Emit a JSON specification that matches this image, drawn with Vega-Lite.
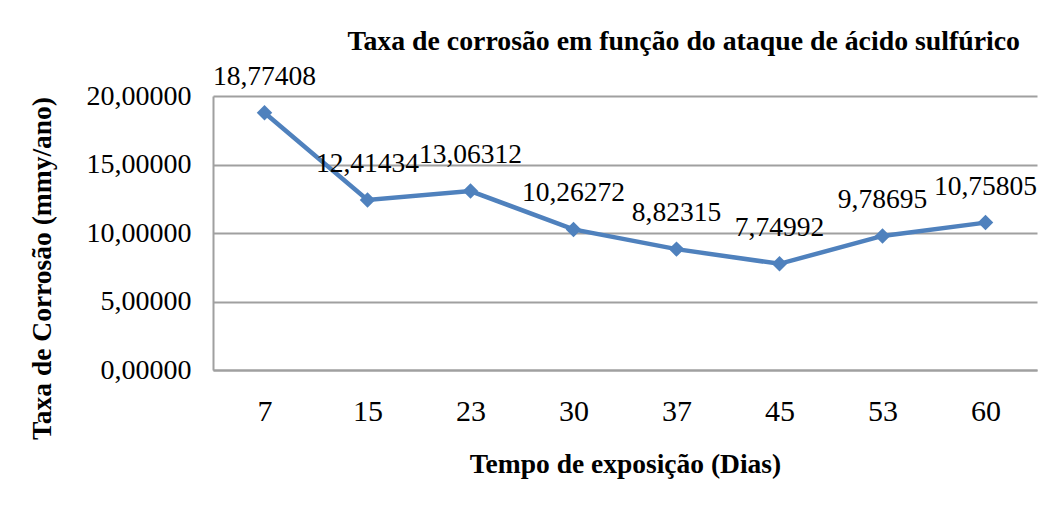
{
  "$schema": "https://vega.github.io/schema/vega-lite/v6.json",
  "width": 824,
  "height": 274,
  "autosize": "none",
  "padding": {"left": 213, "top": 96, "right": 15, "bottom": 136},
  "background": "white",
  "config": {
    "font": "Liberation Serif",
    "locale": {"number": {"decimal": ",", "thousands": ".", "grouping": [3], "currency": ["", ""]}},
    "view": {"stroke": null},
    "title": {"font": "Liberation Serif"},
    "axis": {"labelFont": "Liberation Serif", "titleFont": "Liberation Serif"},
    "text": {"font": "Liberation Serif"}
  },
  "title": {
    "text": "Taxa de corrosão em função do ataque de ácido sulfúrico",
    "fontSize": 27.8,
    "fontWeight": "bold",
    "color": "black",
    "anchor": "end",
    "frame": "group",
    "baseline": "bottom",
    "dx": -17,
    "dy": 59,
    "offset": 38
  },
  "data": {
    "values": [
      {"dias": 7, "taxa": 18.77408},
      {"dias": 15, "taxa": 12.41434},
      {"dias": 23, "taxa": 13.06312},
      {"dias": 30, "taxa": 10.26272},
      {"dias": 37, "taxa": 8.82315},
      {"dias": 45, "taxa": 7.74992},
      {"dias": 53, "taxa": 9.78695},
      {"dias": 60, "taxa": 10.75805}
    ]
  },
  "encoding": {
    "x": {
      "field": "dias",
      "type": "ordinal",
      "scale": {"type": "point", "padding": 0.5},
      "axis": {
        "title": "Tempo de exposição (Dias)",
        "titleFontSize": 27.5,
        "titleFontWeight": "bold",
        "titleColor": "black",
        "titlePadding": 24,
        "labelFontSize": 30,
        "labelColor": "black",
        "labelAngle": 0,
        "labelPadding": 26,
        "ticks": false,
        "domainColor": "#a0a0a0",
        "domainWidth": 2,
        "grid": false
      }
    },
    "y": {
      "field": "taxa",
      "type": "quantitative",
      "scale": {"domain": [0, 20]},
      "axis": {
        "title": "Taxa de Corrosão (mmy/ano)",
        "titleFontSize": 27.5,
        "titleFontWeight": "bold",
        "titleColor": "black",
        "titleX": -171,
        "titleY": 172,
        "titleAlign": "center",
        "titleBaseline": "middle",
        "labelFontSize": 28,
        "labelColor": "black",
        "labelPadding": 22,
        "values": [0, 5, 10, 15, 20],
        "format": ".5f",
        "ticks": false,
        "domainColor": "#a0a0a0",
        "domainWidth": 2,
        "grid": true,
        "gridColor": "#a0a0a0",
        "gridWidth": 2
      }
    }
  },
  "layer": [
    {
      "mark": {"type": "line", "color": "#4F81BD", "strokeWidth": 4.5, "point": {"shape": "diamond", "size": 240, "filled": true, "color": "#4F81BD", "opacity": 1}}
    },
    {
      "mark": {"type": "text", "fontSize": 27.5, "color": "black", "dy": -36, "baseline": "middle"},
      "encoding": {
        "text": {"field": "taxa", "type": "quantitative", "format": ".5f"}
      }
    }
  ]
}
